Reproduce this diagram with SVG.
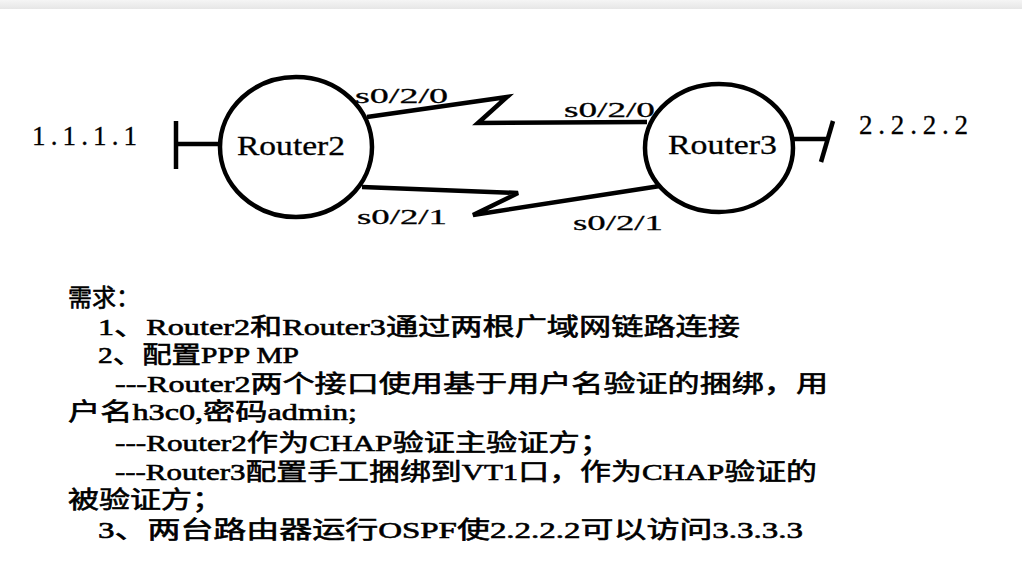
<svg xmlns="http://www.w3.org/2000/svg" width="1022" height="581" viewBox="0 0 1022 581">
  <defs>
    <linearGradient id="bar" x1="0" y1="0" x2="0" y2="1">
      <stop offset="0" stop-color="#f5f5f5"/>
      <stop offset="1" stop-color="#e6e6e6"/>
    </linearGradient>
  </defs>
  <style>
    .ln { fill: none; stroke: #000; stroke-width: 4.5; stroke-linejoin: miter; stroke-linecap: butt; }
    .node { fill: #fff; stroke: #000; stroke-width: 4.5; }
    .lbl { font-family: "Liberation Serif", "Noto Sans CJK SC", serif; fill: #000; stroke: #000; stroke-width: 0.3; }
    .big { font-size: 28px; }
    .port { font-size: 22px; }
    .ip { font-size: 27px; }
    .txt { font-family: "Liberation Serif", "Noto Sans CJK SC", serif; font-size: 24px; fill: #000; stroke: #000; stroke-width: 0.6; }
  </style>
  <rect x="0" y="0" width="1022" height="581" fill="#fff"/>
  <rect x="0" y="0" width="1022" height="9" fill="url(#bar)"/>

  <g id="connectors">
    <polyline class="ln" points="367,117 507,97 478,123 647,122"/>
    <polyline class="ln" points="362,187 518,193 473,215 660,186"/>
    <polyline class="ln" points="218,144 176,144"/>
    <line class="ln" x1="176" y1="121" x2="176" y2="169"/>
    <polyline class="ln" points="794,139 827,139"/>
    <line class="ln" x1="833" y1="121" x2="821" y2="162"/>
  </g>

  <g id="router2">
    <ellipse class="node" cx="296" cy="147" rx="76" ry="70"/>
    <text class="lbl big" x="237" y="155" textLength="108" lengthAdjust="spacingAndGlyphs">Router2</text>
  </g>
  <g id="router3">
    <ellipse class="node" cx="719" cy="148" rx="74" ry="64"/>
    <text class="lbl big" x="668" y="154" textLength="109" lengthAdjust="spacingAndGlyphs">Router3</text>
  </g>

  <g id="labels">
    <text class="lbl ip" x="32" y="145" textLength="105" lengthAdjust="spacing">1.1.1.1</text>
    <text class="lbl ip" x="859" y="134" textLength="109" lengthAdjust="spacing">2.2.2.2</text>
    <text class="lbl port" x="355" y="103" textLength="93" lengthAdjust="spacingAndGlyphs">s0/2/0</text>
    <text class="lbl port" x="564" y="117" textLength="91" lengthAdjust="spacingAndGlyphs">s0/2/0</text>
    <text class="lbl port" x="357" y="224" textLength="90" lengthAdjust="spacingAndGlyphs">s0/2/1</text>
    <text class="lbl port" x="573" y="230" textLength="90" lengthAdjust="spacingAndGlyphs">s0/2/1</text>
  </g>

  <g id="requirements">
    <text class="txt" x="68" y="306">需求：</text>
    <text class="txt" x="98" y="335" textLength="642" lengthAdjust="spacingAndGlyphs">1、Router2和Router3通过两根广域网链路连接</text>
    <text class="txt" x="98" y="363" textLength="201" lengthAdjust="spacingAndGlyphs">2、配置PPP MP</text>
    <text class="txt" x="115" y="392" textLength="713" lengthAdjust="spacingAndGlyphs">---Router2两个接口使用基于用户名验证的捆绑，用</text>
    <text class="txt" x="68" y="420" textLength="289" lengthAdjust="spacingAndGlyphs">户名h3c0,密码admin;</text>
    <text class="txt" x="115" y="451" textLength="496" lengthAdjust="spacingAndGlyphs">---Router2作为CHAP验证主验证方；</text>
    <text class="txt" x="115" y="480" textLength="702" lengthAdjust="spacingAndGlyphs">---Router3配置手工捆绑到VT1口，作为CHAP验证的</text>
    <text class="txt" x="68" y="508" textLength="155" lengthAdjust="spacingAndGlyphs">被验证方；</text>
    <text class="txt" x="98" y="538" textLength="705" lengthAdjust="spacingAndGlyphs">3、两台路由器运行OSPF使2.2.2.2可以访问3.3.3.3</text>
  </g>
</svg>
